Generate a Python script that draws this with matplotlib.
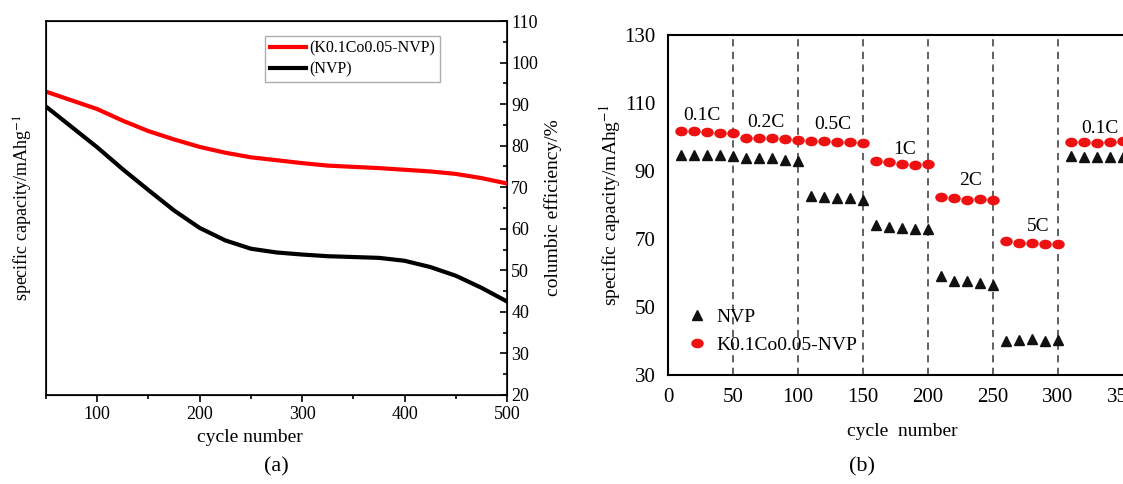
import matplotlib
matplotlib.use("Agg")
import matplotlib.pyplot as plt
from matplotlib.path import Path
from matplotlib.transforms import Affine2D

plt.rcParams["font.family"] = ["Liberation Serif", "DejaVu Serif"]
plt.rcParams["mathtext.fontset"] = "stix"

cycles_a = [50, 75, 100, 125, 150, 175, 200, 225, 250, 275, 300, 325, 350, 375, 400, 425, 450, 475, 500]
kco_a = [93.0, 90.9, 88.8, 86.0, 83.5, 81.5, 79.7, 78.3, 77.2, 76.5, 75.8, 75.2, 74.9, 74.6, 74.2, 73.8, 73.2, 72.2, 70.9]
nvp_a = [89.4, 84.5, 79.6, 74.3, 69.3, 64.4, 60.2, 57.2, 55.2, 54.3, 53.8, 53.4, 53.2, 53.0, 52.3, 50.8, 48.7, 45.8, 42.5]

# (b) rate performance
cycles_b = list(range(10, 361, 10))
nvp_b = [94.8, 94.7, 94.6, 94.6, 94.5, 93.8, 93.8, 93.7, 93.3, 93.0,
         82.7, 82.3, 82.1, 82.0, 81.6, 74.2, 73.4, 73.1, 73.0, 72.8,
         59.0, 57.6, 57.6, 57.1, 56.6, 39.9, 40.4, 40.5, 40.1, 40.3,
         94.5, 94.0, 94.2, 94.1, 94.0, 94.0]
kco_b = [101.7, 101.7, 101.5, 101.2, 101.2, 99.8, 99.8, 99.6, 99.3, 99.2,
         98.9, 98.8, 98.6, 98.5, 98.3, 93.0, 92.6, 92.1, 91.9, 92.0,
         82.4, 82.2, 81.5, 81.7, 81.5, 69.4, 68.8, 68.7, 68.6, 68.4,
         98.5, 98.4, 98.3, 98.5, 98.7, 98.7]
rate_labels = ["0.1C", "0.2C", "0.5C", "1C", "2C", "5C", "0.1C"]
rate_x = [26, 75, 127, 182, 233, 285, 332]
rate_y = [106.3, 104.4, 103.7, 96.3, 87.2, 73.8, 102.4]
step_edges = [50, 100, 150, 200, 250, 300]

fig = plt.figure(figsize=(11.23, 4.84), dpi=100)

# ---- (a)
ax = fig.add_axes([0.041, 0.1839, 0.4105, 0.7727])
ax.set_yticks([])
ax.set_xlim(50, 500)
ax.set_xticks([100, 200, 300, 400, 500])
ax.set_xticks([50, 150, 250, 350, 450], minor=True)
ax.tick_params(axis="x", labelsize=13, direction="out", length=5, width=1.2, pad=3)
ax.tick_params(axis="x", which="minor", length=3, width=1.2)
ax.set_xlabel("cycle number", fontsize=14, labelpad=3)
ax.xaxis.set_label_coords(0.442, -0.09)
ax.set_ylabel("specific capacity/mAhg$^{-1}$", fontsize=13, labelpad=8)
for s in ax.spines.values():
    s.set_linewidth(1.2)

ax2 = ax.twinx()
ax2.set_ylim(20, 110)
ax2.set_yticks(range(20, 111, 10))
ax2.set_yticks(range(25, 110, 10), minor=True)
ax2.tick_params(axis="y", labelsize=13, direction="in", length=5, width=1.2, pad=3)
ax2.tick_params(axis="y", which="minor", direction="in", length=3, width=1.2)
ax2.set_ylabel("columbic efficiency/%", fontsize=14, labelpad=4)
ax2.plot(cycles_a, kco_a, color="#ff0000", lw=3, label="(K0.1Co0.05-NVP)")
ax2.plot(cycles_a, nvp_a, color="black", lw=3, label="(NVP)")
leg = ax2.legend(loc="upper right", bbox_to_anchor=(0.855, 0.96), fontsize=11.5,
                 fancybox=False, handlelength=2.3, handletextpad=0.2,
                 borderpad=0.3, labelspacing=0.3, borderaxespad=0)
leg.get_frame().set_edgecolor("#999999")
leg.get_frame().set_linewidth(1.0)

fig.text(276 / 1123, 1 - 467 / 484, "(a)", fontsize=16, ha="center", va="center")

# ---- (b)
bx = fig.add_axes([0.5948, 0.2252, 0.4167, 0.7025])
bx.set_xlim(0, 360)
bx.set_ylim(30, 130)
bx.set_xticks(range(0, 351, 50))
bx.set_yticks(range(30, 131, 20))
bx.tick_params(labelsize=15, length=0)
bx.tick_params(axis="y", pad=9)
bx.tick_params(axis="x", pad=9)
for s in bx.spines.values():
    s.set_linewidth(1.5)
for e in step_edges:
    bx.axvline(e, color="#555555", lw=1.3, ls=(0, (4, 3)), zorder=1)

ellipse = Path.unit_circle().transformed(Affine2D().scale(1.35, 1.0))
bx.plot(cycles_b, nvp_b, ls="none", marker="^", ms=7, color="#111111",
        label="NVP", zorder=3, clip_on=False)
bx.plot(cycles_b, kco_b, ls="none", marker=ellipse, ms=8, color="#ee1111",
        label="K0.1Co0.05-NVP", zorder=3, clip_on=False)
for t, x, y in zip(rate_labels, rate_x, rate_y):
    bx.text(x, y, t, fontsize=14, ha="center", va="center")

bx.set_xlabel("cycle  number", fontsize=14, labelpad=12)
bx.set_ylabel("specific capacity/mAhg$^{-1}$", fontsize=14, labelpad=1)
bx.legend(loc="lower left", bbox_to_anchor=(0.0, 0.01), frameon=False,
          fontsize=14, handlelength=1.2, handletextpad=0.4, labelspacing=0.55)

fig.text(862 / 1123, 1 - 467 / 484, "(b)", fontsize=16, ha="center", va="center")

fig.savefig("out.png", dpi=100)
